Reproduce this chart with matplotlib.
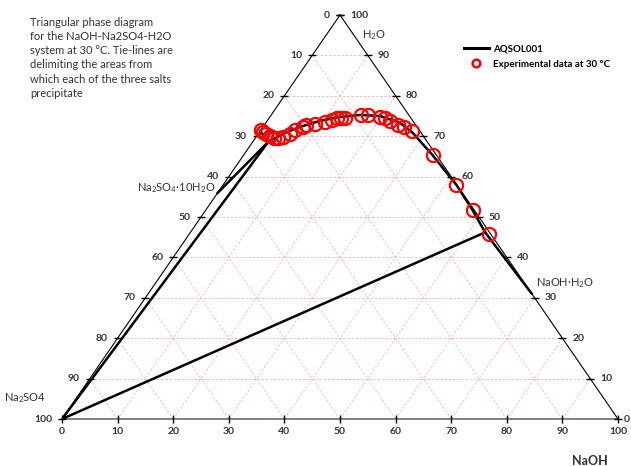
import numpy as np
import matplotlib
matplotlib.use("Agg")
import matplotlib.pyplot as plt

plt.rcParams['font.family'] = ['Lato', 'DejaVu Sans']
plt.rcParams['mathtext.fontset'] = 'custom'
plt.rcParams['mathtext.rm'] = 'Lato'
plt.rcParams['mathtext.it'] = 'Lato'

# compositions in wt% (NaOH, H2O); Na2SO4 = 100 - NaOH - H2O
exp_naoh = [0.0, 0.65, 1.45, 2.4, 3.3, 4.0, 4.8, 5.75, 6.15, 7.15, 7.5, 9.0, 10.55,
            11.6, 12.25, 12.95, 13.65, 16.2, 17.4, 19.8, 20.85, 22.1, 24.0, 25.35,
            27.3, 34.0, 41.9, 48.0, 53.9]
exp_h2o = [71.5, 71.0, 70.5, 70.0, 69.6, 69.6, 69.8, 70.5, 71.5, 72.3, 72.8, 73.0, 73.5,
           74.0, 74.5, 74.5, 74.5, 75.2, 75.2, 74.75, 74.5, 73.75, 72.8, 72.3,
           71.3, 65.3, 57.9, 51.7, 45.9]

model_naoh = [0.0, 2.8, 4.7, 6.65, 9.5, 12.6, 15.95, 19.7, 24.15, 27.7, 34.0, 42.0, 48.0, 53.0]
model_h2o = [71.3, 68.6, 70.8, 72.3, 73.8, 74.75, 75.25, 75.0, 73.3, 70.8, 65.3, 57.9, 51.7, 46.2]

# tie-lines: (NaOH, H2O) start and end
tie_lines = [
    ((0.0, 0.0), (2.8, 68.6)),
    ((0.0, 55.9), (2.8, 68.6)),
    ((0.0, 0.0), (53.0, 46.2)),
    ((53.0, 46.2), (69.0, 31.0)),
]

ticks = list(range(0, 101, 10))


def xy(naoh, h2o):
    naoh = np.asarray(naoh, float)
    h2o = np.asarray(h2o, float)
    return naoh + h2o / 2, h2o


fig = plt.figure(figsize=(6.31, 4.66), dpi=100)
ax = fig.add_axes([62 / 631, 47 / 466, 556 / 631, 404 / 466])
ax.set_xlim(0, 100)
ax.set_ylim(0, 100)
ax.axis('off')

# grid
grid_kw = dict(color='#f2b4b4', lw=0.6, ls=(0, (3, 2)), zorder=1)
for k in ticks[1:-1]:
    ax.plot(*xy([0, 100 - k], [k, k]), **grid_kw)
    ax.plot(*xy([k, k], [0, 100 - k]), **grid_kw)
    ax.plot(*xy([100 - k, 0], [0, 100 - k]), **grid_kw)

# triangle edges
ax.plot(*xy([0, 100], [0, 0]), color='#777777', lw=1.3, zorder=2, clip_on=False)
ax.plot(*xy([0, 0], [0, 100]), color='black', lw=0.8, zorder=2, clip_on=False)
ax.plot(*xy([100, 0], [0, 100]), color='black', lw=0.8, zorder=2, clip_on=False)

# ticks and tick labels
lab_kw = dict(textcoords='offset pixels', fontsize=7.5, color='#333333',
              fontweight='bold', annotation_clip=False)
for k in ticks:
    bx, by = xy(k, 0)
    ax.plot(bx, by, marker='|', ms=6, color='black', mew=1, clip_on=False, zorder=3)
    ax.annotate(str(k), (bx, by), xytext=(0, -13), ha='center', va='center', **lab_kw)
    lx, ly = xy(0, 100 - k)
    ax.plot(lx, ly, marker='_', ms=6, color='black', mew=1, clip_on=False, zorder=3)
    ax.annotate(str(k), (lx, ly), xytext=(-10, 0), ha='right', va='center', **lab_kw)
    rx, ry = xy(100 - k, k)
    ax.plot(rx, ry, marker='_', ms=6, color='black', mew=1, clip_on=False, zorder=3)
    ax.annotate(str(k), (rx, ry), xytext=(6 if k == 0 else 10, 0), ha='left', va='center',
                **lab_kw)

# tie-lines
for (a, b) in tie_lines:
    ax.plot(*xy([a[0], b[0]], [a[1], b[1]]), color='black', lw=1.8, zorder=3,
            solid_capstyle='round')

# model and experimental data
ax.plot(*xy(model_naoh, model_h2o), color='black', lw=1.8, zorder=4, label='AQSOL001')
ax.plot(*xy(exp_naoh, exp_h2o), ls='none', marker='o', ms=9.5, mfc='none', mec='red',
        mew=1.6, zorder=5, clip_on=False, label='Experimental data at 30 °C')

leg = ax.legend(loc='upper left', bbox_to_anchor=(455 / 631, 1 - 36 / 466),
                bbox_transform=fig.transFigure, frameon=False, fontsize=7,
                handlelength=2.6, handletextpad=0.4, labelspacing=0.6)
for t in leg.get_texts():
    t.set_fontweight('bold')
leg.legend_handles[0].set_linewidth(2.2)
leg.legend_handles[1].set_markersize(5.5)
leg.legend_handles[1].set_markeredgewidth(1.8)

# component labels
name_kw = dict(fontsize=8, color='#333333', ha='center', va='center', clip_on=False)
ax.text(56.1, 95.0, 'H$_2$O', **name_kw)
ax.text(-6.6, 5.2, 'Na$_2$SO4', **name_kw)
ax.text(90.5, 33.7, 'NaOH·H$_2$O', **name_kw)
ax.text(20.5, 57.2, 'Na$_2$SO$_4$·10H$_2$O', **name_kw)
ax.text(95.0, -10.4, 'NaOH', fontsize=9, fontweight='bold', color='#333333',
        ha='center', va='center', clip_on=False)

ax.text(-5.75, 99.5,
        'Triangular phase diagram\nfor the NaOH-Na2SO4-H2O\nsystem at 30 °C. Tie-lines are\n'
        'delimiting the areas from\nwhich each of the three salts\nprecipitate',
        fontsize=8, color='#333333', ha='left', va='top', linespacing=1.35, clip_on=False)

fig.savefig('out.png', dpi=100)
